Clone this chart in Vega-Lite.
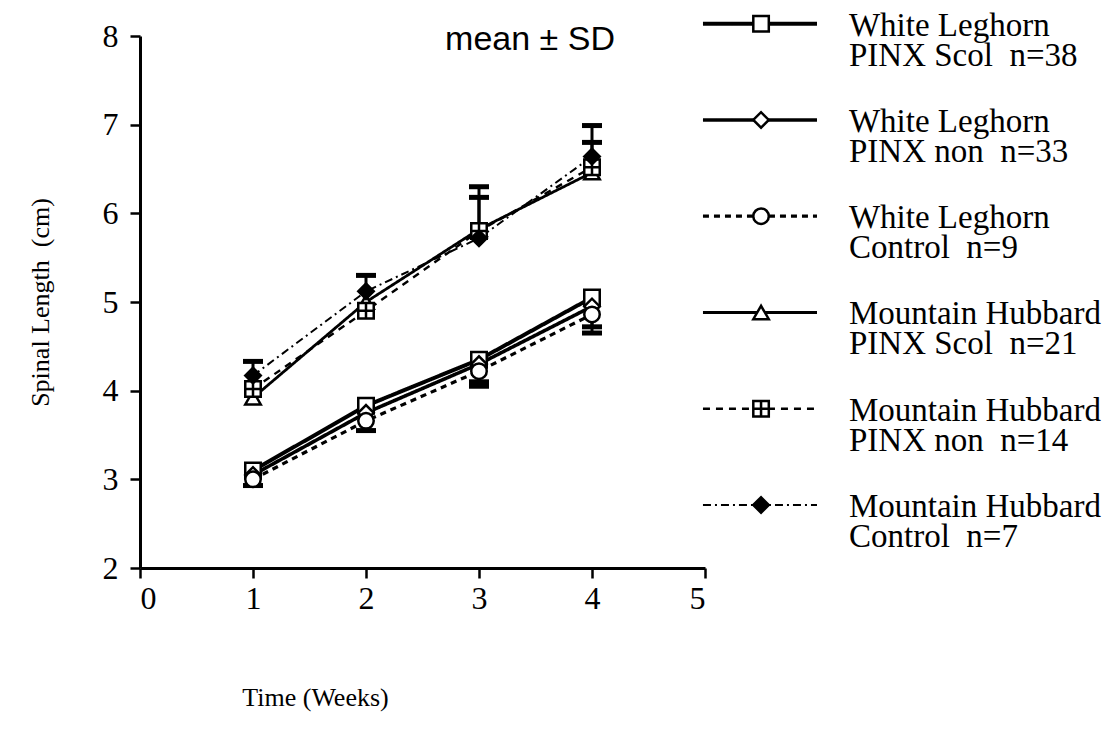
{
  "$schema": "https://vega.github.io/schema/vega-lite/v6.json",
  "width": 565,
  "height": 532,
  "autosize": {"type": "none"},
  "padding": {"left": 140, "top": 36, "right": 407, "bottom": 176},
  "background": "white",
  "config": {
    "view": {"stroke": null},
    "font": "Liberation Serif",
    "axis": {
      "domainColor": "black", "domainWidth": 3, "tickColor": "black", "tickWidth": 2.5, "tickSize": 10,
      "labelFont": "Liberation Serif", "labelFontSize": 32, "labelColor": "black",
      "titleFont": "Liberation Serif", "titleFontSize": 26, "titleFontWeight": "normal", "titleColor": "black",
      "grid": false
    }
  },
  "datasets": {
    "main": [
      {"s": "WLS", "w": 1, "m": 3.10, "e": null},
      {"s": "WLS", "w": 2, "m": 3.83, "e": null},
      {"s": "WLS", "w": 3, "m": 4.35, "e": null},
      {"s": "WLS", "w": 4, "m": 5.05, "e": null},
      {"s": "WLN", "w": 1, "m": 3.05, "e": null},
      {"s": "WLN", "w": 2, "m": 3.75, "e": null},
      {"s": "WLN", "w": 3, "m": 4.30, "e": 4.10},
      {"s": "WLN", "w": 4, "m": 4.95, "e": 4.72},
      {"s": "WLC", "w": 1, "m": 3.00, "e": 2.93},
      {"s": "WLC", "w": 2, "m": 3.66, "e": 3.55},
      {"s": "WLC", "w": 3, "m": 4.22, "e": 4.05},
      {"s": "WLC", "w": 4, "m": 4.86, "e": 4.65},
      {"s": "MHS", "w": 1, "m": 3.92, "e": null},
      {"s": "MHS", "w": 2, "m": 5.00, "e": null},
      {"s": "MHS", "w": 3, "m": 5.82, "e": null},
      {"s": "MHS", "w": 4, "m": 6.46, "e": null},
      {"s": "MHN", "w": 1, "m": 4.02, "e": null},
      {"s": "MHN", "w": 2, "m": 4.90, "e": null},
      {"s": "MHN", "w": 3, "m": 5.80, "e": 6.18},
      {"s": "MHN", "w": 4, "m": 6.52, "e": 6.80},
      {"s": "MHC", "w": 1, "m": 4.17, "e": 4.33},
      {"s": "MHC", "w": 2, "m": 5.12, "e": 5.30},
      {"s": "MHC", "w": 3, "m": 5.72, "e": 6.30},
      {"s": "MHC", "w": 4, "m": 6.64, "e": 6.99}
    ],
    "legend": [
      {"s": "WLS", "label": "White Leghorn\nPINX Scol\u00a0\u00a0n=38"},
      {"s": "WLN", "label": "White Leghorn\n\u00a0PINX non\u00a0\u00a0n=33"},
      {"s": "WLC", "label": "White Leghorn\nControl\u00a0\u00a0n=9"},
      {"s": "MHS", "label": "Mountain Hubbard\nPINX Scol\u00a0\u00a0n=21"},
      {"s": "MHN", "label": "Mountain Hubbard\nPINX non\u00a0\u00a0n=14"},
      {"s": "MHC", "label": "Mountain Hubbard\nControl\u00a0\u00a0n=7"}
    ],
    "note": [{"t": "mean ± SD"}]
  },
  "layer": [
    {
      "data": {"name": "main"},
      "layer": [
        {
          "mark": {"type": "line", "color": "black"},
          "encoding": {
            "x": {"field": "w", "type": "quantitative", "scale": {"domain": [0, 5], "nice": false, "zero": false},
              "axis": {"values": [0, 1, 2, 3, 4, 5], "format": "d", "labelPadding": 5, "title": "Time (Weeks)",
                "titleX": 175, "titleY": 129, "titleAlign": "center", "titleBaseline": "middle", "titleAnchor": null}},
            "y": {"field": "m", "type": "quantitative", "scale": {"domain": [2, 8], "nice": false, "zero": false},
              "axis": {"values": [2, 3, 4, 5, 6, 7, 8], "format": "d", "labelPadding": 12, "title": "Spinal Length\u00a0\u00a0(cm)",
                "titleX": -100, "titleY": 266, "titleAlign": "center", "titleBaseline": "middle", "titleAnchor": null}},
            "detail": {"field": "s", "type": "nominal"},
            "strokeDash": {"field": "s", "type": "nominal", "legend": null,
              "scale": {"domain": ["WLS", "WLN", "WLC", "MHS", "MHN", "MHC"], "range": [[1, 0], [1, 0], [6, 5], [1, 0], [7, 6], [8, 4, 2, 4]]}},
            "strokeWidth": {"field": "s", "type": "nominal", "legend": null,
              "scale": {"domain": ["WLS", "WLN", "WLC", "MHS", "MHN", "MHC"], "range": [4, 2, 2.5, 2.5, 2.5, 2.5]}}
          }
        },
        {
          "transform": [{"filter": "isValid(datum.e)"}],
          "mark": {"type": "rule", "color": "black", "strokeWidth": 3},
          "encoding": {
            "x": {"field": "w", "type": "quantitative"},
            "y": {"field": "m", "type": "quantitative"},
            "y2": {"field": "e"}
          }
        },
        {
          "transform": [{"filter": "isValid(datum.e)"}],
          "mark": {"type": "tick", "orient": "horizontal", "color": "black", "size": 20, "thickness": 5, "opacity": 1},
          "encoding": {
            "x": {"field": "w", "type": "quantitative"},
            "y": {"field": "e", "type": "quantitative"}
          }
        },
        {
          "mark": {"type": "point", "filled": true, "stroke": "black", "strokeWidth": 2.5, "size": 240, "opacity": 1},
          "encoding": {
            "x": {"field": "w", "type": "quantitative"},
            "y": {"field": "m", "type": "quantitative"},
            "shape": {"field": "s", "type": "nominal", "legend": null,
              "scale": {"domain": ["WLS", "WLN", "WLC", "MHS", "MHN", "MHC"],
                "range": ["square", "diamond", "circle", "triangle-up", "M-1,-1H1V1H-1Z M0,-1V1 M-1,0H1", "diamond"]}},
            "fill": {"field": "s", "type": "nominal", "legend": null,
              "scale": {"domain": ["WLS", "WLN", "WLC", "MHS", "MHN", "MHC"], "range": ["white", "white", "white", "white", "white", "black"]}}
          }
        },
        {
          "data": {"name": "note"},
          "mark": {"type": "text", "font": "Liberation Sans", "fontSize": 34, "align": "left", "baseline": "alphabetic", "color": "black"},
          "encoding": {
            "x": {"datum": 2.70, "type": "quantitative"},
            "y": {"datum": 7.847, "type": "quantitative"},
            "text": {"field": "t"}
          }
        }
      ]
    },
    {
      "data": {"name": "legend"},
      "layer": [
        {
          "mark": {"type": "rule", "color": "black"},
          "encoding": {
            "x": {"datum": 4.982, "type": "quantitative"},
            "x2": {"datum": 5.991},
            "y": {"field": "s", "type": "ordinal", "axis": null,
              "scale": {"type": "point", "domain": ["WLS", "WLN", "WLC", "MHS", "MHN", "MHC"], "range": [-12.3, 469], "padding": 0}},
            "strokeDash": {"field": "s", "type": "nominal", "legend": null},
            "strokeWidth": {"field": "s", "type": "nominal", "legend": null}
          }
        },
        {
          "mark": {"type": "point", "filled": true, "stroke": "black", "strokeWidth": 2.5, "size": 240, "opacity": 1},
          "encoding": {
            "x": {"datum": 5.496, "type": "quantitative"},
            "y": {"field": "s", "type": "ordinal"},
            "shape": {"field": "s", "type": "nominal", "legend": null},
            "fill": {"field": "s", "type": "nominal", "legend": null}
          }
        },
        {
          "mark": {"type": "text", "align": "left", "baseline": "alphabetic", "dy": 12, "lineBreak": "\n", "lineHeight": 30,
            "fontSize": 33, "font": "Liberation Serif", "color": "black"},
          "encoding": {
            "x": {"datum": 6.274, "type": "quantitative"},
            "y": {"field": "s", "type": "ordinal"},
            "text": {"field": "label"}
          }
        }
      ]
    }
  ],
  "resolve": {"scale": {"y": "independent"}}
}
